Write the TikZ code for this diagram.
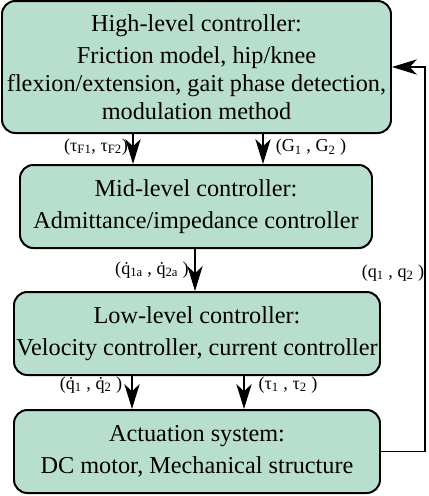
\documentclass[tikz,border=0pt]{standalone}
\usepackage{fontspec}
\setmainfont{Liberation Serif}
\usepackage{xcolor}
\usepackage{tikz}
\usetikzlibrary{positioning,arrows.meta}
\definecolor{boxgreen}{RGB}{184,222,205}

\begin{document}
\begin{tikzpicture}[
  level/.style={draw=black,line width=1.7pt,fill=boxgreen,rounded corners=0.4cm,
    align=center,inner sep=0pt,font=\fontsize{20.7}{23.9}\selectfont},
  flow/.style={line width=1.2pt,-{Stealth[length=0.75cm,width=0.46cm,inset=0.22cm]}},
  sig/.style={font=\fontsize{15.5}{17}\selectfont,inner sep=0pt}]
  \useasboundingbox (0,0) rectangle (12.87,-14.88);
  \node[level,minimum width=11.67cm,minimum height=3.96cm] (high) at (5.895,-2.01)
    {High-level controller:\\[3.4pt] Friction model, hip/knee\\ flexion/extension, gait phase detection,\\ modulation method};
  \node[level,minimum width=10.56cm,minimum height=2.49cm] (mid) at (5.88,-6.195)
    {Mid-level controller:\\[3.4pt] Admittance/impedance controller};
  \node[level,minimum width=10.98cm,minimum height=2.49cm] (low) at (5.91,-10.005)
    {Low-level controller:\\[3.4pt] Velocity controller, current controller};
  \node[level,minimum width=10.98cm,minimum height=2.49cm] (act) at (5.91,-13.545)
    {Actuation system:\\[3.4pt] DC motor, Mechanical structure};
  % x positions of the arrows
  \coordinate (xa) at (3.99,0);
  \coordinate (xb) at (7.89,0);
  \coordinate (xc) at (5.85,0);
  \coordinate (xd) at (3.96,0);
  \coordinate (xe) at (7.32,0);
  \coordinate (xf) at (12.75,-8);
  \draw[flow] (high.south -| xa) -- (mid.north -| xa);
  \draw[flow] (high.south -| xb) -- (mid.north -| xb);
  \draw[flow] (mid.south -| xc) -- (low.north -| xc);
  \draw[flow] (low.south -| xd) -- (act.north -| xd);
  \draw[flow] (low.south -| xe) -- (act.north -| xe);
  \draw[flow] (act.east) -| (xf) |- (high.east);
  \node[sig] (tauF) at (2.88,-4.40) {(τ\textsubscript{F1}, τ\textsubscript{F2})};
  \node[sig] (gain) at (9.33,-4.42) {(G\textsubscript{1} , G\textsubscript{2} )};
  \node[sig] (qda) at (4.56,-8.10) {(\.{q}\textsubscript{1a} , \.{q}\textsubscript{2a} )};
  \node[sig] (qq) at (11.79,-8.19) {(q\textsubscript{1} , q\textsubscript{2} )};
  \node[sig] (qd) at (2.73,-11.55) {(\.{q}\textsubscript{1} , \.{q}\textsubscript{2} )};
  \node[sig] (tau) at (8.64,-11.55) {(τ\textsubscript{1} , τ\textsubscript{2} )};
\end{tikzpicture}
\end{document}
